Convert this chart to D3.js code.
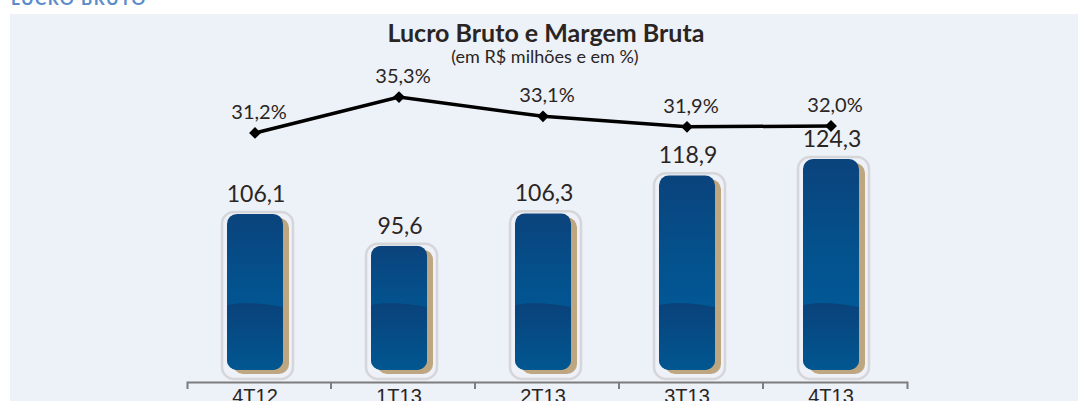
<!DOCTYPE html>
<html>
<head>
<meta charset="utf-8">
<script src="https://cdn.jsdelivr.net/npm/d3@7"></script>
<style>
  html, body { margin: 0; padding: 0; background: #ffffff; }
  svg { display: block; font-family: Lato, "Open Sans", sans-serif; }
</style>
</head>
<body>
<svg id="chart" width="1078" height="401"></svg>
<script>
// data
const categories = ["4T12", "1T13", "2T13", "3T13", "4T13"]
const lucroBruto = [106.1, 95.6, 106.3, 118.9, 124.3]   // R$ milhões
const margemBruta = [31.2, 35.3, 33.1, 31.9, 32.0]     // %
const sectionTitle = "LUCRO BRUTO"
const chartTitle = "Lucro Bruto e Margem Bruta"
const chartSubtitle = "(em R$ milhões e em %)"

const width = 1078
const height = 401
const axisY = 382
const barBottom = 370
const barW = 56

const ptBR = d3.formatLocale({ decimal: ",", thousands: ".", grouping: [3], currency: ["R$", ""] })
const fmt = ptBR.format(".1f")

const svg = d3.select('#chart')

// gradients
const defs = svg.append('defs')
const gTop = defs.append('linearGradient').attr('id', 'gTop').attr('x1', 0).attr('y1', 0).attr('x2', 0).attr('y2', 1)
gTop.append('stop').attr('offset', '0%').attr('stop-color', '#0b437c')
gTop.append('stop').attr('offset', '45%').attr('stop-color', '#03528e')
gTop.append('stop').attr('offset', '100%').attr('stop-color', '#005fa0')
const gBot = defs.append('linearGradient').attr('id', 'gBot').attr('x1', 0).attr('y1', 0).attr('x2', 0).attr('y2', 1)
gBot.append('stop').attr('offset', '0%').attr('stop-color', '#0a427b')
gBot.append('stop').attr('offset', '100%').attr('stop-color', '#015791')

// panel
svg.append('rect').attr('x', 10).attr('y', 14).attr('width', width - 10).attr('height', height - 14).attr('fill', '#edf1f8')

svg.append('text').attr('x', 11).attr('y', 5)
    .attr('font-size', 17).attr('font-weight', 'bold').attr('letter-spacing', 1.5)
    .attr('fill', '#5b8bc9').text(sectionTitle)

svg.append('text').attr('x', 546).attr('y', 42).attr('text-anchor', 'middle')
    .attr('font-size', 25).attr('font-weight', 'bold').attr('fill', '#2a2522').text(chartTitle)
svg.append('text').attr('x', 545).attr('y', 63).attr('text-anchor', 'middle')
    .attr('font-size', 18).attr('fill', '#2a2522').text(chartSubtitle)

// scales
const xScale = d3.scaleBand().domain(categories).range([187, 907])
const cx = (d) => xScale(d) + xScale.bandwidth() / 2 - 4
const yBar = d3.scaleLinear().domain([54.4, 124.3]).range([barBottom, 159])
const yLine = d3.scaleLinear().domain([31, 36]).range([134.7, 91])

const bars = categories.map((c, i) => ({ name: c, value: lucroBruto[i], pct: margemBruta[i] }))

// bars
const bg = svg.selectAll('.bar').data(bars).enter().append('g').attr('class', 'bar')

bg.append('rect')
    .attr('x', (d) => cx(d.name) - 33)
    .attr('y', (d) => yBar(d.value) - 2)
    .attr('width', 71)
    .attr('height', (d) => 379 - yBar(d.value) + 2)
    .attr('rx', 12)
    .attr('fill', '#eef1f7')
    .attr('stroke', '#d5d6d9')
    .attr('stroke-width', 2.5)

bg.append('rect')
    .attr('x', (d) => cx(d.name) - 28 + 6)
    .attr('y', (d) => yBar(d.value) + 4)
    .attr('width', barW)
    .attr('height', (d) => barBottom - yBar(d.value))
    .attr('rx', 10)
    .attr('fill', '#bea680')

bg.each(function (d, i) {
    const x0 = cx(d.name) - 28
    const x1 = x0 + barW
    const top = yBar(d.value)
    const clipId = 'clip' + i
    defs.append('clipPath').attr('id', clipId)
        .append('rect').attr('x', x0).attr('y', top).attr('width', barW)
        .attr('height', barBottom - top).attr('rx', 10)
    const g = d3.select(this).append('g').attr('clip-path', `url(#${clipId})`)
    g.append('rect').attr('x', x0).attr('y', top).attr('width', barW)
        .attr('height', barBottom - top).attr('fill', 'url(#gTop)')
    const yw = barBottom - 66
    g.append('path')
        .attr('d', `M${x0},${yw + 1}Q${x0 + barW * 0.35},${yw - 4} ${x1},${yw + 3}L${x1},${barBottom}L${x0},${barBottom}Z`)
        .attr('fill', 'url(#gBot)')
})

bg.append('text')
    .attr('x', (d) => cx(d.name) + 1)
    .attr('y', (d) => yBar(d.value) - 12)
    .attr('text-anchor', 'middle')
    .attr('font-size', 23)
    .attr('fill', '#2a2522')
    .text((d) => fmt(d.value))

// axis
const xAxis = d3.axisBottom(xScale).tickSize(0).tickSizeOuter(7).tickFormat('')
const ax = svg.append('g').attr('transform', `translate(0,${axisY})`).call(xAxis)
ax.select('.domain').attr('stroke', '#7d7d7d').attr('stroke-width', 2)
ax.selectAll('.bound').data(categories.slice(1)).enter().append('line')
    .attr('class', 'bound')
    .attr('x1', (d) => xScale(d)).attr('x2', (d) => xScale(d))
    .attr('y1', 0).attr('y2', 7)
    .attr('stroke', '#7d7d7d').attr('stroke-width', 2)
ax.selectAll('.cat').data(categories).enter().append('text')
    .attr('class', 'cat')
    .attr('x', (d) => cx(d))
    .attr('y', 21)
    .attr('text-anchor', 'middle')
    .attr('font-size', 20)
    .attr('fill', '#2a2522')
    .text((d) => d)

// margin line
const line = d3.line().x((d) => cx(d.name)).y((d) => yLine(d.pct))
svg.append('path').attr('d', line(bars)).attr('fill', 'none')
    .attr('stroke', '#000').attr('stroke-width', 3.5)

svg.selectAll('.mk').data(bars).enter().append('path')
    .attr('class', 'mk')
    .attr('d', d3.symbol(d3.symbolSquare).size(70))
    .attr('transform', (d) => `translate(${cx(d.name)},${yLine(d.pct)}) rotate(45)`)
    .attr('fill', '#000')

svg.selectAll('.pct').data(bars).enter().append('text')
    .attr('class', 'pct')
    .attr('x', (d) => cx(d.name) + 4)
    .attr('y', (d) => yLine(d.pct) - 14)
    .attr('text-anchor', 'middle')
    .attr('font-size', 20)
    .attr('fill', '#2a2522')
    .text((d) => fmt(d.pct) + '%')
</script>
</body>
</html>
